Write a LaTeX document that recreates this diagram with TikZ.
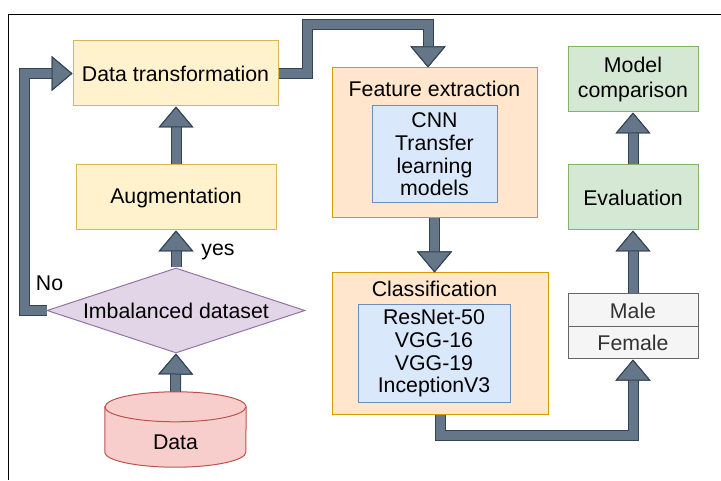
\documentclass[tikz,border=0pt]{standalone}
\usepackage{fontspec}
\setmainfont{Liberation Sans}
\usepackage{tikz}
\usetikzlibrary{shapes.geometric}
\usetikzlibrary{arrows.meta}
\definecolor{yelfill}{HTML}{FFF2CC}
\definecolor{yeldraw}{HTML}{D6B656}
\definecolor{orfill}{HTML}{FFE6CC}
\definecolor{ordraw}{HTML}{D79B00}
\definecolor{blfill}{HTML}{DAE8FC}
\definecolor{bldraw}{HTML}{6C8EBF}
\definecolor{grfill}{HTML}{D5E8D4}
\definecolor{grdraw}{HTML}{82B366}
\definecolor{pufill}{HTML}{E1D5E7}
\definecolor{pudraw}{HTML}{9673A6}
\definecolor{refill}{HTML}{F8CECC}
\definecolor{redraw}{HTML}{B85450}
\definecolor{gyfill}{HTML}{F5F5F5}
\definecolor{gydraw}{HTML}{666666}
\definecolor{gytext}{HTML}{333333}
\definecolor{arrfill}{HTML}{647687}
\definecolor{arrline}{HTML}{314354}
\tikzset{
  yellowbox/.style={draw=yeldraw, fill=yelfill, line width=1pt, inner sep=0pt},
  orangebox/.style={draw=ordraw, fill=orfill, line width=1pt, inner sep=0pt},
  bluebox/.style={draw=bldraw, fill=blfill, line width=1pt, inner sep=0pt, align=center},
  greenbox/.style={draw=grdraw, fill=grfill, line width=1pt, inner sep=0pt, align=center},
  graybox/.style={draw=gydraw, fill=gyfill, text=gytext, line width=1pt, inner sep=0pt},
  decision/.style={diamond, draw=pudraw, fill=pufill, line width=1pt, inner sep=0pt,
    aspect=3.04, minimum width=258pt, minimum height=85pt},
  cyl/.style={draw=redraw, fill=refill, line width=1pt},
  flow/.style={draw=arrfill, line width=9pt, line join=miter,
    preaction={draw=arrline, line width=11pt},
    -{Triangle[length=21pt, width=35pt, line width=1pt, color=arrline, fill=arrfill]}}
}

\begin{document}
\begin{tikzpicture}[x=1pt, y=1pt, font=\fontsize{21.3}{22.7}\selectfont]
        \useasboundingbox (0,0) rectangle (721,480);
        % frame
        \draw[line width=1.2pt] (721,465.5) -- (8.5,465.5) -- (8.5,0);
        % left column
        \node[yellowbox, minimum width=205pt, minimum height=65pt] (dt) at (175.5,406.5) {Data transformation};
        \node[yellowbox, minimum width=200pt, minimum height=65pt] (aug) at (176,282.5) {Augmentation};
        \node[decision] (imb) at (176,169.5) {Imbalanced dataset};
        \node[minimum width=141pt, minimum height=75pt] (data) at (175.5,50.5) {};
        \draw[cyl] ([yshift=-15pt]data.north west) -- ([yshift=15pt]data.south west)
            arc[start angle=180, end angle=360, x radius=70.5pt, y radius=15pt]
            -- ([yshift=-15pt]data.north east)
            arc[start angle=0, end angle=180, x radius=70.5pt, y radius=15pt] -- cycle;
        \draw[cyl, fill=none] ([yshift=-15pt]data.north west)
            arc[start angle=180, end angle=360, x radius=70.5pt, y radius=15pt];
        \node (datatxt) at (175.5,38) {Data};
        % middle column
        \node[orangebox, minimum width=205pt, minimum height=150pt] (fe) at (434.5,337) {};
        \node (fetitle) at (434.5,391) {Feature extraction};
        \node[bluebox, minimum width=125pt, minimum height=97pt] (cnn) at (434.5,325.5) {CNN\\Transfer\\learning\\models};
        \node[orangebox, minimum width=216pt, minimum height=141pt] (cls) at (440,136.5) {};
        \node (clstitle) at (434.5,191) {Classification};
        \node[bluebox, minimum width=152pt, minimum height=97pt] (nets) at (434,126.5) {ResNet-50\\VGG-16\\VGG-19\\InceptionV3};
        % right column
        \node[graybox, minimum width=130pt, minimum height=33pt] (male) at (633,169.5) {Male};
        \node[graybox, minimum width=130pt, minimum height=32pt] (female) at (633,137) {Female};
        \node[greenbox, minimum width=130pt, minimum height=65pt] (ev) at (633,282.5) {Evaluation};
        \node[greenbox, minimum width=130pt, minimum height=65pt] (mc) at (633,400.5) {Model\\[2.5pt]comparison};
        % arrows
        \coordinate (fetop) at ([xshift=-6.5pt]fe.north);
        \draw[flow] (data.north) -- (imb.south);
        \draw[flow] (imb.north) -- (aug.south);
        \draw[flow] (aug.north) -- (aug.north |- dt.south);
        \draw[flow] (imb.west) -- ++(-22,0) |- (dt.west);
        \draw[flow] (dt.east) -- ++(29,0) -- ++(0,48.5) -| (fetop);
        \draw[flow] (fe.south) -- (fe.south |- cls.north);
        \draw[flow] (cls.south) -- ++(0,-21) -| (female.south);
        \draw[flow] (male.north) -- (ev.south);
        \draw[flow] (ev.north) -- (mc.south);
        % labels
        \node (yes) at (218,228) {yes};
        \node (no) at (49.5,197) {No};
    \end{tikzpicture}
\end{document}
